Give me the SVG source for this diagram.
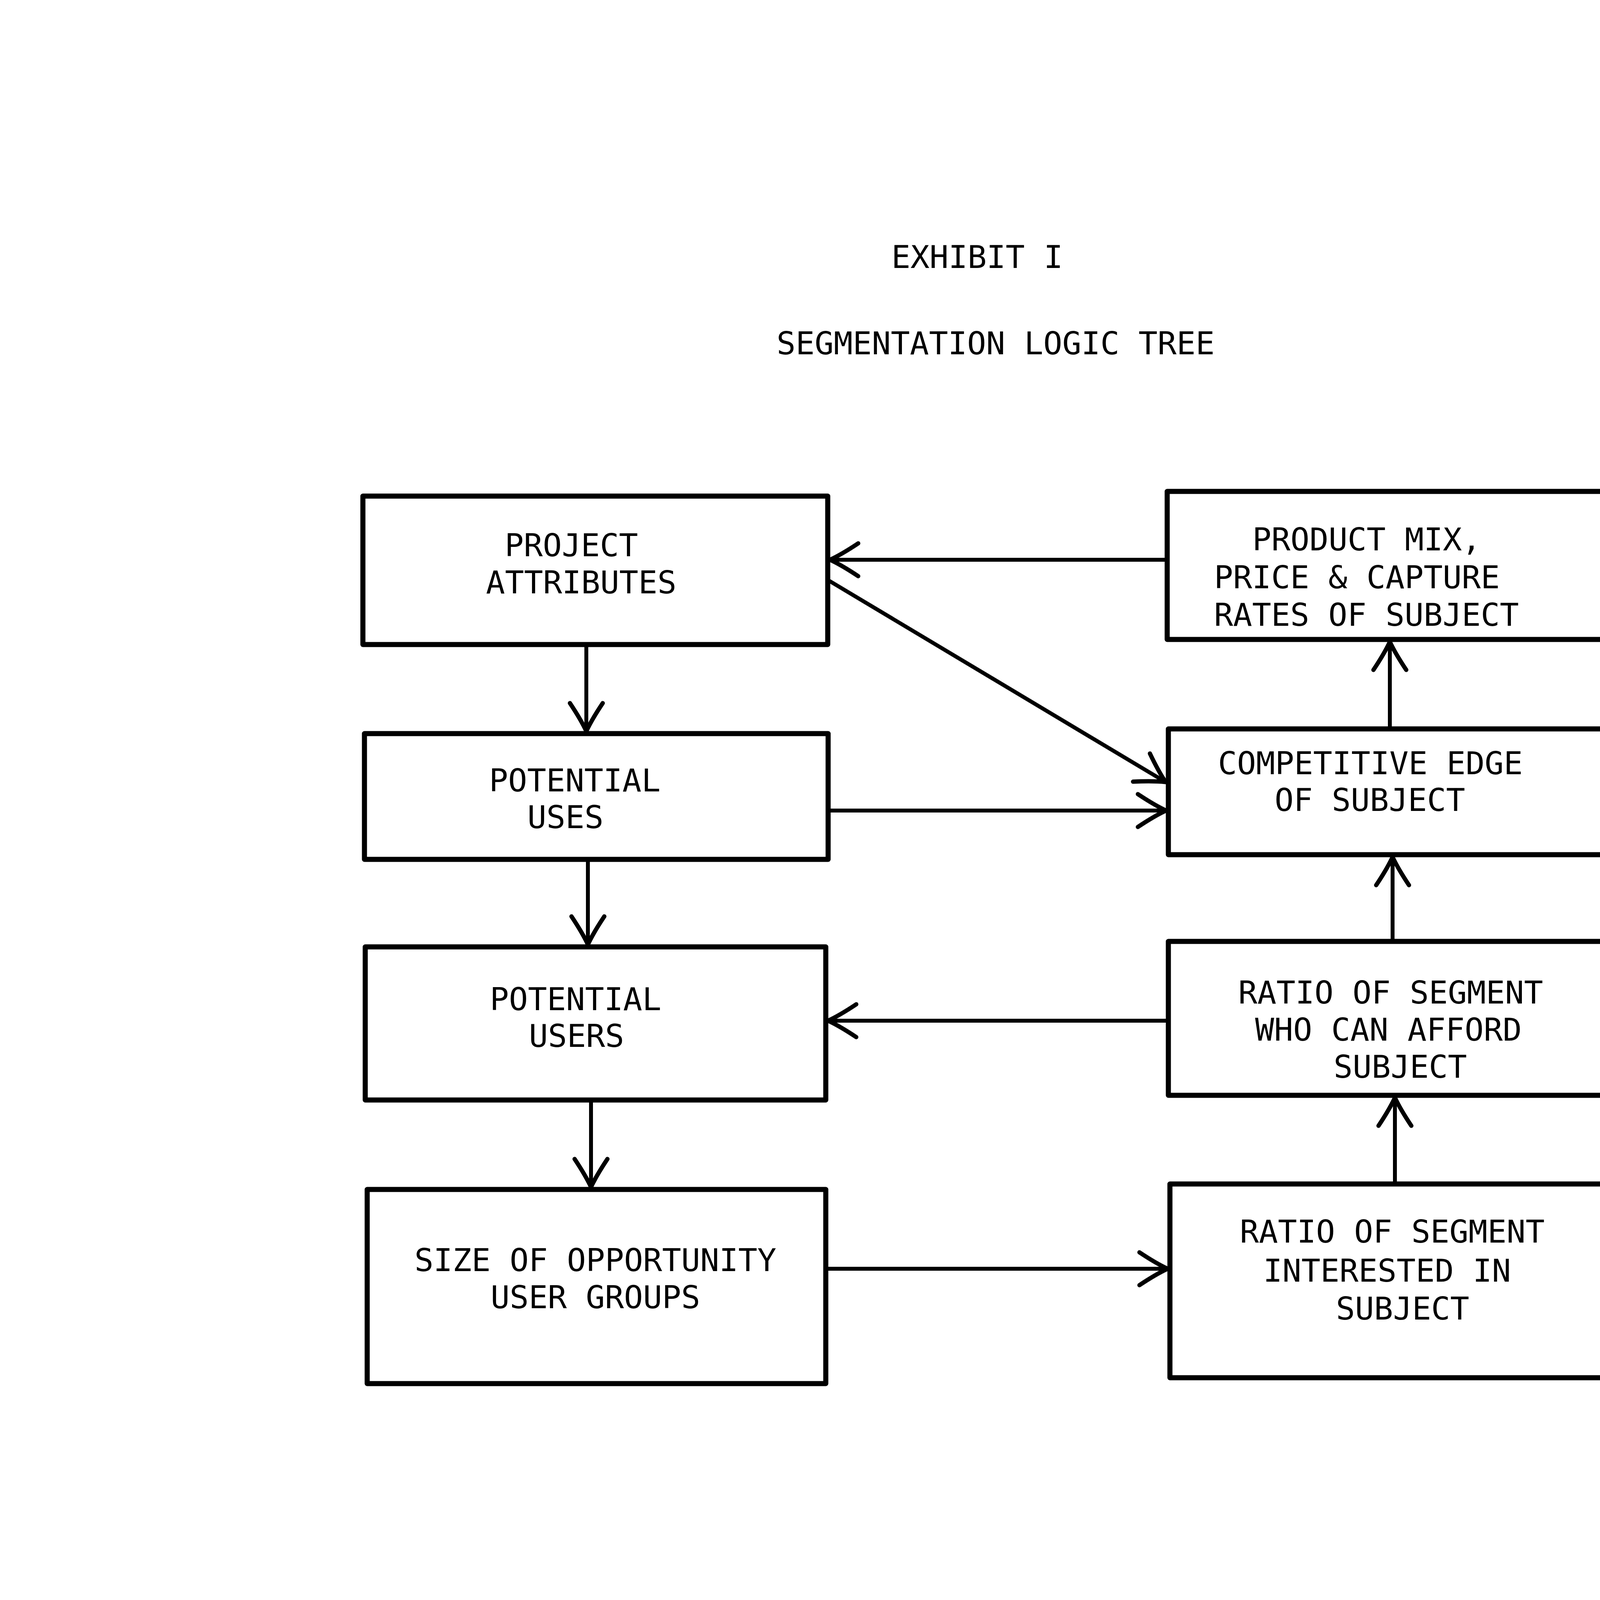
<svg xmlns="http://www.w3.org/2000/svg" width="4958" height="6433" viewBox="0 0 4958 6433">
<style>
.box{fill:#fff;stroke:#000;stroke-width:13;stroke-linejoin:round}
.lbl{font-family:"DejaVu Sans Mono","Liberation Mono",monospace;font-size:81px;fill:#000}
.body{font-family:"DejaVu Sans Mono","Liberation Mono",monospace;font-size:81px;fill:#000}
.con{fill:none;stroke:#000;stroke-width:10;stroke-linecap:round}
</style>
<defs>
<marker id="arr" markerUnits="userSpaceOnUse" viewBox="-90 -60 100 120" refX="0" refY="0" markerWidth="100" markerHeight="120" orient="auto">
<path d="M -72 -42 Q -30 -14 0 0 Q -30 14 -72 42" fill="none" stroke="#000" stroke-width="11" stroke-linecap="round" stroke-linejoin="round"/>
</marker>
</defs>
<rect width="4958" height="6433" fill="#fff"/>
<g id="title">
<text class="lbl" x="2282" y="686">EXHIBIT I</text>
<text class="lbl" x="1988" y="907">SEGMENTATION LOGIC TREE</text>
</g>
<g id="connectors">
<line class="con" x1="2988" y1="1433" x2="2125" y2="1433" marker-end="url(#arr)"/>
<line class="con" x1="2123" y1="1487" x2="2984" y2="2002" marker-end="url(#arr)"/>
<line class="con" x1="1501" y1="1650" x2="1501" y2="1872" marker-end="url(#arr)"/>
<line class="con" x1="2120" y1="2075" x2="2985" y2="2075" marker-end="url(#arr)"/>
<line class="con" x1="3558" y1="1866" x2="3558" y2="1643" marker-end="url(#arr)"/>
<line class="con" x1="1505" y1="2200" x2="1505" y2="2418" marker-end="url(#arr)"/>
<line class="con" x1="2991" y1="2613" x2="2120" y2="2613" marker-end="url(#arr)"/>
<line class="con" x1="3565" y1="2410" x2="3565" y2="2194" marker-end="url(#arr)"/>
<line class="con" x1="1513" y1="2816" x2="1513" y2="3039" marker-end="url(#arr)"/>
<line class="con" x1="2114" y1="3248" x2="2989" y2="3248" marker-end="url(#arr)"/>
<line class="con" x1="3571" y1="3031" x2="3571" y2="2810" marker-end="url(#arr)"/>
</g>
<g id="project-attributes">
<rect class="box" x="929" y="1270" width="1190" height="380"/>
<text class="lbl" x="1292" y="1424">PROJECT</text>
<text class="lbl" x="1244" y="1519">ATTRIBUTES</text>
</g>
<g id="product-mix">
<rect class="box" x="2988" y="1258" width="1172" height="379"/>
<text class="lbl" x="3206" y="1409">PRODUCT MIX,</text>
<text class="lbl" x="3108" y="1506">PRICE &amp; CAPTURE</text>
<text class="lbl" x="3108" y="1602">RATES OF SUBJECT</text>
</g>
<g id="potential-uses">
<rect class="box" x="933" y="1878" width="1187" height="322"/>
<text class="lbl" x="1252" y="2026">POTENTIAL</text>
<text class="lbl" x="1350" y="2120">USES</text>
</g>
<g id="competitive-edge">
<rect class="box" x="2991" y="1866" width="1176" height="322"/>
<text class="lbl" x="3118" y="1982">COMPETITIVE EDGE</text>
<text class="lbl" x="3263" y="2076">OF SUBJECT</text>
</g>
<g id="potential-users">
<rect class="box" x="935" y="2424" width="1179" height="392"/>
<text class="lbl" x="1254" y="2586">POTENTIAL</text>
<text class="lbl" x="1354" y="2680">USERS</text>
</g>
<g id="ratio-afford">
<rect class="box" x="2991" y="2410" width="1176" height="394"/>
<text class="lbl" x="3170" y="2569">RATIO OF SEGMENT</text>
<text class="lbl" x="3213" y="2664">WHO CAN AFFORD</text>
<text class="lbl" x="3414" y="2759">SUBJECT</text>
</g>
<g id="size-opportunity">
<rect class="box" x="940" y="3045" width="1174" height="497"/>
<text class="lbl" x="1061" y="3254">SIZE OF OPPORTUNITY</text>
<text class="lbl" x="1256" y="3349">USER GROUPS</text>
</g>
<g id="ratio-interested">
<rect class="box" x="2995" y="3031" width="1177" height="496"/>
<text class="lbl" x="3174" y="3181">RATIO OF SEGMENT</text>
<text class="lbl" x="3234" y="3281">INTERESTED IN</text>
<text class="lbl" x="3420" y="3378">SUBJECT</text>
</g>
<g id="note">
<text class="body" x="939" y="5002">C.</text>
<text class="body" x="1132" y="5002" textLength="3398" lengthAdjust="spacing">Market data refers to aggregate data, secondary information, the easy</text>
<line x1="1134" y1="5018" x2="1686" y2="5018" stroke="#000" stroke-width="8"/>
<text class="body" x="1132" y="5096" textLength="3386" lengthAdjust="spacing">to acquire data from census tracts, traffic counts, building permits,</text>
<text class="body" x="1132" y="5191" xml:space="preserve" textLength="3290" lengthAdjust="spacing">and so on.  It is useful to scale the size of the market potential,</text>
<text class="body" x="1132" y="5287" textLength="3598" lengthAdjust="spacing">of the opportunity area but by itself aggregate market data is relatively</text>
<text class="body" x="1132" y="5381" textLength="2160" lengthAdjust="spacing">unimportant to the success of most projects.</text>
</g>
</svg>
